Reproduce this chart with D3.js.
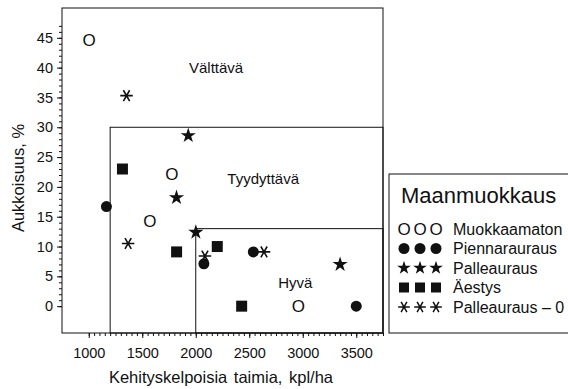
<!DOCTYPE html>
<html>
<head>
<meta charset="utf-8">
<script src="https://cdn.jsdelivr.net/npm/d3@7"></script>
<style>
  body { margin: 0; background: #fff; }
  svg { font-family: "Liberation Sans", Arial, sans-serif; }
  .axis text { font-size: 14.5px; fill: #111; }
  .axis path, .axis line { stroke: #111; }
</style>
</head>
<body>
<div id="chart"></div>
<script>
// series: [taimia kpl/ha, aukkoisuus %]
const muokkaamaton = [[1003, 44.6], [1777, 22.2], [1571, 14.3], [2959, 0]]
const piennarauraus = [[1165, 16.7], [2076, 7.1], [2538, 9.1], [3500, 0]]
const palleauraus = [[1930, 28.6], [1820, 18.2], [2001, 12.4], [3349, 7.0]]
const aestys = [[1315, 23.0], [1821, 9.1], [2201, 10.0], [2429, 0]]
const palleauraus0 = [[1353, 35.3], [1368, 10.5], [2086, 8.4], [2638, 9.1]]

const xTicks = [1000, 1500, 2000, 2500, 3000, 3500]
const yTicks = [0, 5, 10, 15, 20, 25, 30, 35, 40, 45]

// class boundaries: [min taimia, max aukkoisuus]
const zones = [
    {name: "Välttävä", x0: 750, y1: 50, lx: 2190, ly: 40},
    {name: "Tyydyttävä", x0: 1200, y1: 30, lx: 2630, ly: 21.4},
    {name: "Hyvä", x0: 2000, y1: 13, lx: 2930, ly: 4}
]

const legendItems = ["Muokkaamaton", "Piennarauraus", "Palleauraus", "Äestys", "Palleauraus – 0"]

const width = 568
const height = 389

const x = d3.scaleLinear().domain([750, 3750]).range([62, 383])
const y = d3.scaleLinear().domain([-4.5, 50]).range([333, 8])

const $svg = d3.select("#chart").append("svg")
    .attr("width", width)
    .attr("height", height)

// zones (outer one is the plot frame)
$svg.selectAll(".zone")
    .data(zones)
    .enter().append("rect")
    .attr("class", "zone")
    .attr("x", d => x(d.x0))
    .attr("y", d => y(d.y1))
    .attr("width", d => x(3750) - x(d.x0))
    .attr("height", d => y(-4.5) - y(d.y1))
    .attr("fill", "none")
    .attr("stroke", "#111")
    .attr("stroke-width", 1)

$svg.selectAll(".zoneLabel")
    .data(zones)
    .enter().append("text")
    .attr("class", "zoneLabel")
    .attr("x", d => x(d.lx))
    .attr("y", d => y(d.ly))
    .attr("text-anchor", "middle")
    .attr("dy", "0.35em")
    .style("font-size", "15px")
    .attr("fill", "#111")
    .text(d => d.name)

// axes, major + minor ticks
$svg.append("g")
    .attr("class", "axis")
    .attr("transform", `translate(62,0)`)
    .call(d3.axisLeft(y).tickValues(d3.range(0, 48, 1)).tickSize(3).tickFormat(""))
    .call(g => g.select(".domain").remove())

$svg.append("g")
    .attr("class", "axis")
    .attr("transform", `translate(62,0)`)
    .call(d3.axisLeft(y).tickValues(yTicks).tickSize(5).tickPadding(4))
    .call(g => g.select(".domain").remove())

$svg.append("g")
    .attr("class", "axis")
    .attr("transform", `translate(0,333)`)
    .call(d3.axisBottom(x).tickValues(d3.range(1000, 3751, 50)).tickSize(3).tickFormat(""))
    .call(g => g.select(".domain").remove())

$svg.append("g")
    .attr("class", "axis")
    .attr("transform", `translate(0,333)`)
    .call(d3.axisBottom(x).tickValues(xTicks).tickSize(5).tickPadding(10).tickFormat(d3.format("d")))
    .call(g => g.select(".domain").remove())

$svg.append("text")
    .attr("x", 221)
    .attr("y", 383)
    .attr("text-anchor", "middle")
    .style("font-size", "16.5px")
    .style("word-spacing", "2px")
    .attr("fill", "#111")
    .text("Kehityskelpoisia taimia, kpl/ha")

$svg.append("text")
    .attr("transform", `translate(24,178) rotate(-90)`)
    .attr("text-anchor", "middle")
    .style("font-size", "16.5px")
    .attr("fill", "#111")
    .text("Aukkoisuus, %")

// markers
const star = d3.symbol().type(d3.symbolStar).size(72)
const square = d3.symbol().type(d3.symbolSquare).size(121)
const dot = d3.symbol().type(d3.symbolCircle).size(95)
const aster = d3.symbol().type(d3.symbolAsterisk).size(110)

$svg.selectAll(".open")
    .data(muokkaamaton)
    .enter().append("text")
    .attr("class", "open")
    .attr("x", d => x(d[0]))
    .attr("y", d => y(d[1]))
    .attr("text-anchor", "middle")
    .attr("dy", "0.36em")
    .style("font-size", "17px")
    .attr("fill", "#111")
    .text("O")

$svg.selectAll(".dot")
    .data(piennarauraus)
    .enter().append("path")
    .attr("class", "dot")
    .attr("transform", d => `translate(${x(d[0])},${y(d[1])})`)
    .attr("d", dot)
    .attr("fill", "#111")

$svg.selectAll(".star")
    .data(palleauraus)
    .enter().append("path")
    .attr("class", "star")
    .attr("transform", d => `translate(${x(d[0])},${y(d[1])})`)
    .attr("d", star)
    .attr("fill", "#111")

$svg.selectAll(".square")
    .data(aestys)
    .enter().append("path")
    .attr("class", "square")
    .attr("transform", d => `translate(${x(d[0])},${y(d[1])})`)
    .attr("d", square)
    .attr("fill", "#111")

$svg.selectAll(".aster")
    .data(palleauraus0)
    .enter().append("path")
    .attr("class", "aster")
    .attr("transform", d => `translate(${x(d[0])},${y(d[1])}) rotate(90)`)
    .attr("d", aster)
    .attr("fill", "none")
    .attr("stroke", "#111")
    .attr("stroke-width", 1.6)

// legend
const $legend = $svg.append("g")

$legend.append("rect")
    .attr("x", 389)
    .attr("y", 174)
    .attr("width", 200)
    .attr("height", 159)
    .attr("fill", "none")
    .attr("stroke", "#111")

$legend.append("text")
    .attr("x", 401)
    .attr("y", 203)
    .style("font-size", "22px")
    .attr("fill", "#111")
    .text("Maanmuokkaus")

const legendSymbols = [
    null,
    d3.symbol().type(d3.symbolCircle).size(95),
    d3.symbol().type(d3.symbolStar).size(58),
    d3.symbol().type(d3.symbolSquare).size(100),
    d3.symbol().type(d3.symbolAsterisk).size(95)
]

legendItems.forEach((name, i) => {
    const ly = 229 + i * 19.5
    ;[404, 420, 436].forEach(sx => {
        if (i === 0) {
            $legend.append("text")
                .attr("x", sx).attr("y", ly)
                .attr("dy", "0.36em")
                .attr("text-anchor", "middle")
                .style("font-size", "17px")
                .attr("fill", "#111")
                .text("O")
        } else {
            $legend.append("path")
                .attr("transform", `translate(${sx},${ly})` + (i === 4 ? " rotate(90)" : ""))
                .attr("d", legendSymbols[i])
                .attr("fill", i === 4 ? "none" : "#111")
                .attr("stroke", i === 4 ? "#111" : "none")
                .attr("stroke-width", 1.5)
        }
    })
    $legend.append("text")
        .attr("x", 453)
        .attr("y", ly)
        .attr("dy", "0.36em")
        .style("font-size", "16px")
        .attr("fill", "#111")
        .text(name)
})
</script>
</body>
</html>
